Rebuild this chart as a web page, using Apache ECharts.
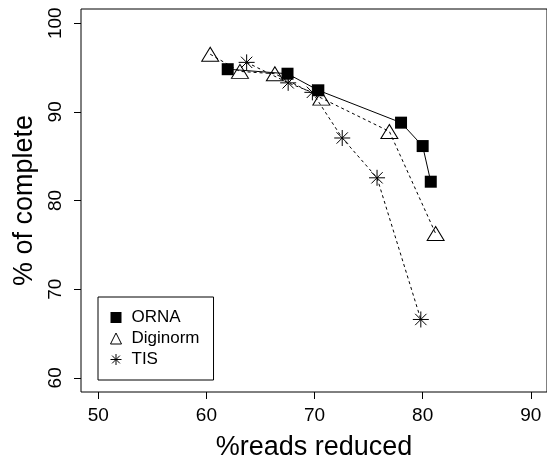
<!DOCTYPE html>
<html>
<head>
<meta charset="utf-8">
<script src="https://cdn.jsdelivr.net/npm/echarts@6/dist/echarts.min.js"></script>
<style>
  html, body { margin: 0; padding: 0; background: #fff; }
  #chart { width: 547px; height: 466px; }
</style>
</head>
<body>
<div id="chart"></div>
<script>
// data
const xTicks = [50, 60, 70, 80, 90];
const yTicks = [60, 70, 80, 90, 100];

const ornaX = [61.97, 67.5, 70.35, 78.0, 80.0, 80.75];
const ornaY = [94.81, 94.3, 92.43, 88.78, 86.14, 82.12];

const digiX = [60.35, 63.1, 66.33, 70.63, 76.92, 81.2];
const digiY = [96.5, 94.56, 94.3, 91.55, 87.79, 76.27];

const tisX = [63.72, 67.56, 69.8, 72.56, 75.78, 79.83];
const tisY = [95.58, 93.27, 92.2, 87.05, 82.56, 66.58];

const font = "'Liberation Sans', Arial, Helvetica, sans-serif";
const starPath = "path://M0,-10L0,10M-10,0L10,0M-7.07,-7.07L7.07,7.07M-7.07,7.07L7.07,-7.07";

const pairs = (xs, ys) => xs.map((x, i) => [x, ys[i]]);

const chart = echarts.init(document.getElementById("chart"));

chart.setOption({
  animation: false,
  backgroundColor: "#fff",
  textStyle: { fontFamily: font, color: "#000" },
  grid: {
    show: true,
    left: 81,
    top: 9,
    width: 466,
    height: 394,
    borderColor: "#000",
    borderWidth: 1,
    backgroundColor: "transparent",
  },
  legend: {
    orient: "vertical",
    left: 98,
    top: 297,
    padding: [12, 14, 12, 10],
    itemGap: 4,
    itemWidth: 11,
    itemHeight: 11,
    borderColor: "#000",
    borderWidth: 1,
    textStyle: { fontFamily: font, fontSize: 17, color: "#000", padding: [0, 0, 0, 5] },
    data: [
      { name: "ORNA", icon: "rect", itemStyle: { color: "#000", borderWidth: 0 } },
      { name: "Diginorm", icon: "triangle", itemStyle: { color: "none", borderColor: "#000", borderWidth: 1 } },
      { name: "TIS", icon: starPath, itemStyle: { color: "none", borderColor: "#000", borderWidth: 1 } },
    ],
  },
  xAxis: {
    type: "value",
    min: 48.4,
    max: 91.5,
    name: "%reads reduced",
    nameLocation: "middle",
    nameGap: 42,
    nameTextStyle: { fontFamily: font, fontSize: 27, color: "#000" },
    axisLine: { show: false },
    splitLine: { show: false },
    axisTick: {
      show: true,
      length: 7,
      customValues: xTicks,
      lineStyle: { color: "#000", width: 1 },
    },
    axisLabel: {
      customValues: xTicks,
      fontSize: 19,
      color: "#000",
      margin: 14,
      fontFamily: font,
    },
  },
  yAxis: {
    type: "value",
    min: 58.4,
    max: 101.6,
    name: "% of complete",
    nameLocation: "middle",
    nameRotate: 90,
    nameGap: 42,
    nameTextStyle: { fontFamily: font, fontSize: 27, color: "#000" },
    axisLine: { show: false },
    splitLine: { show: false },
    axisTick: {
      show: true,
      length: 7,
      customValues: yTicks,
      lineStyle: { color: "#000", width: 1 },
    },
    axisLabel: {
      customValues: yTicks,
      rotate: 90,
      fontSize: 19,
      color: "#000",
      margin: 16,
      fontFamily: font,
    },
  },
  series: [
    {
      name: "ORNA",
      type: "line",
      data: pairs(ornaX, ornaY),
      symbol: "rect",
      symbolSize: 12,
      lineStyle: { color: "#000", width: 1, type: "solid" },
      itemStyle: { color: "#000" },
      z: 3,
    },
    {
      name: "Diginorm",
      type: "line",
      data: pairs(digiX, digiY),
      symbol: "triangle",
      symbolSize: [17, 14],
      lineStyle: { color: "#000", width: 1, type: [3, 3] },
      itemStyle: { color: "none", borderColor: "#000", borderWidth: 1 },
      z: 2,
    },
    {
      name: "TIS",
      type: "line",
      data: pairs(tisX, tisY),
      symbol: starPath,
      symbolSize: 16,
      lineStyle: { color: "#000", width: 1, type: [3, 3] },
      itemStyle: { color: "none", borderColor: "#000", borderWidth: 1 },
      z: 2,
    },
  ],
});
</script>
</body>
</html>
